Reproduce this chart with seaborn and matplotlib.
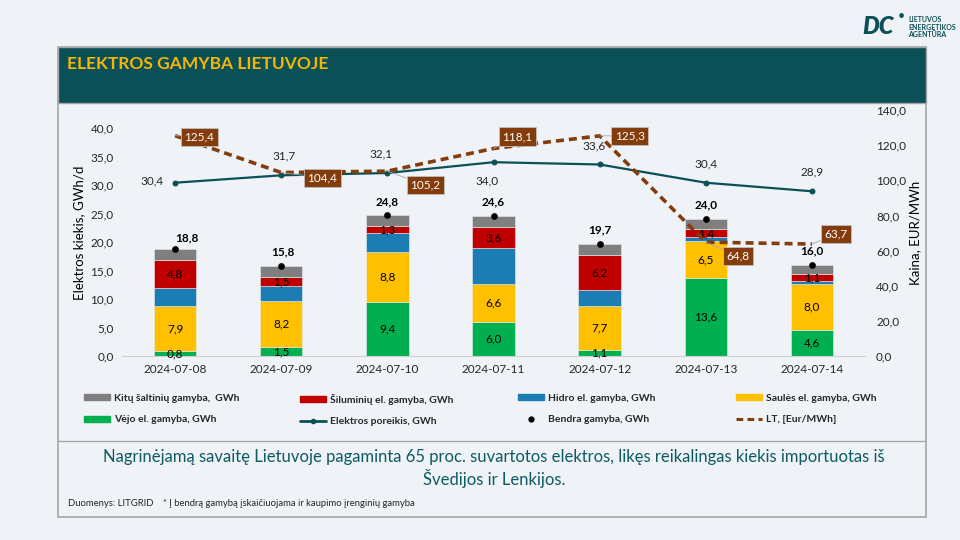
import numpy as np
import matplotlib
matplotlib.use("Agg")
import matplotlib.pyplot as plt
from matplotlib.patches import Rectangle, Patch
from matplotlib.lines import Line2D
import seaborn as sns

# ---------------- data ----------------
dates = ["2024-07-08", "2024-07-09", "2024-07-10", "2024-07-11",
         "2024-07-12", "2024-07-13", "2024-07-14"]
wind = [0.8, 1.5, 9.4, 6.0, 1.1, 13.6, 4.6]
solar = [7.9, 8.2, 8.8, 6.6, 7.7, 6.5, 8.0]
hydro = [3.3, 2.6, 3.3, 6.4, 2.7, 0.7, 0.6]
thermal = [4.8, 1.5, 1.3, 3.6, 6.2, 1.4, 1.1]
total = [18.8, 15.8, 24.8, 24.6, 19.7, 24.0, 16.0]
demand = [30.4, 31.7, 32.1, 34.0, 33.6, 30.4, 28.9]
price = [125.4, 104.4, 105.2, 118.1, 125.3, 64.8, 63.7]
other = [round(t - (w + s + h + th), 2) for t, w, s, h, th in zip(total, wind, solar, hydro, thermal)]

left_ticks = [0, 5, 10, 15, 20, 25, 30, 35, 40]
right_ticks = [0, 20, 40, 60, 80, 100, 120, 140]

# ---------------- style ----------------
sns.set_theme(style="white")
plt.rcParams["font.family"] = ["Lato", "DejaVu Sans"]

BG = "#EFF3F7"
TEAL = "#0B4F57"
C_OTHER = "#7F7F7F"
C_TH = "#C00000"
C_HY = "#1B7DB4"
C_SO = "#FFC000"
C_WI = "#00B050"
C_PR = "#843C0C"

fig = plt.figure(figsize=(9.6, 5.4), dpi=100, facecolor=BG)

W, H = 960.0, 540.0
def fx(px): return px / W
def fy(py): return 1 - py / H

# slide frame
fig.patches.append(Rectangle((fx(58), fy(517)), fx(926) - fx(58), fy(47) - fy(517),
                             transform=fig.transFigure, facecolor=BG,
                             edgecolor="#A6A6A6", lw=1.2, zorder=-10))
fig.patches.append(Rectangle((fx(58), fy(103)), fx(926) - fx(58), fy(47) - fy(103),
                             transform=fig.transFigure, facecolor=TEAL,
                             edgecolor="#A6A6A6", lw=1.0, zorder=-9))
fig.lines.append(Line2D([fx(58), fx(926)], [fy(441), fy(441)], transform=fig.transFigure,
                        color="#A6A6A6", lw=1.0, zorder=-8))
fig.text(fx(67), fy(64), "ELEKTROS GAMYBA LIETUVOJE", color="#F2B705", fontsize=12.5,
         fontweight="bold", va="center", ha="left")

# logo
fig.text(fx(862), fy(27), "DC", color=TEAL, fontsize=17, fontweight="heavy",
         fontstyle="italic", va="center", ha="left")
fig.text(fx(898), fy(16), "•", color=TEAL, fontsize=9, va="center", ha="left")
fig.text(fx(908), fy(27), "LIETUVOS\nENERGETIKOS\nAGENTŪRA", color=TEAL, fontsize=5,
         fontweight="bold", va="center", ha="left", linespacing=1.05)

# ---------------- chart ----------------
ax = fig.add_axes([fx(122), fy(356), fx(865) - fx(122), fy(110) - fy(356)])
ax.set_facecolor("none")

x_idx = np.arange(len(dates))
bottom = np.zeros(len(dates))
series = [(wind, C_WI, True), (solar, C_SO, True), (hydro, C_HY, False),
          (thermal, C_TH, True), (other, C_OTHER, False)]
for vals, col, lab in series:
    sns.barplot(x=dates, y=vals, bottom=bottom, color=col, width=0.4, ax=ax,
                edgecolor="#E8ECEF", linewidth=0.4, saturation=1, zorder=2)
    if lab:
        for i, v in enumerate(vals):
            ax.text(i, bottom[i] + v / 2, f"{v:.1f}".replace(".", ","), ha="center",
                    va="center", fontsize=8.5, color="black", zorder=5)
    bottom = bottom + np.array(vals)

# total dots
sns.scatterplot(x=x_idx, y=total, color="black", s=20, ax=ax, zorder=6, legend=False,
                edgecolor="black")
tot_off = [(12, 11), (2, 14), (0, 13), (0, 14), (0, 14), (0, 14), (0, 14)]
for i, v in enumerate(total):
    ax.annotate(f"{v:.1f}".replace(".", ","), (i, v), xytext=tot_off[i],
                textcoords="offset pixels", ha="center", va="center", fontsize=8.5,
                fontweight="bold", color="black", zorder=7)

# demand line
sns.lineplot(x=x_idx, y=demand, color=TEAL, lw=1.6, marker="o", markersize=3.5,
             markeredgecolor=TEAL, ax=ax, zorder=4, legend=False)
dem_off = [(-23, 2), (3, 19), (-6, 19), (-6, -19), (-6, 19), (0, 19), (0, 19)]
for i, v in enumerate(demand):
    ax.annotate(f"{v:.1f}".replace(".", ","), (i, v), xytext=dem_off[i],
                textcoords="offset pixels", ha="center", va="center", fontsize=8.5,
                color="#262626", zorder=7)

ax.set_xlim(-0.5, len(dates) - 0.5)
ax.set_ylim(0, 246 / 5.7)
ax.set_yticks(left_ticks)
ax.set_yticklabels([f"{t:.1f}".replace(".", ",") for t in left_ticks], fontsize=8.5,
                   color="#262626")
ax.set_xticks(x_idx)
ax.set_xticklabels(dates, fontsize=8.5, color="#262626")
ax.tick_params(axis="both", length=0, pad=6)
ax.set_xlabel("")
ax.set_ylabel("Elektros kiekis, GWh/d", fontsize=9.5, color="black", labelpad=4)
for s in ["top", "right", "left"]:
    ax.spines[s].set_visible(False)
ax.spines["bottom"].set_color("#D0D0D0")
ax.spines["bottom"].set_linewidth(0.8)
ax.grid(False)

# price line on twin axis
ax2 = ax.twinx()
ax2.set_facecolor("none")
sns.lineplot(x=x_idx, y=price, color=C_PR, lw=2.6, ax=ax2, legend=False, zorder=5)
ax2.lines[-1].set_dashes((2.2, 1.4))
pr_off = [(24, -1), (41, -5), (38, -14), (24, 12), (30, 0), (32, -14), (24, 10)]
for i, v in enumerate(price):
    ax2.annotate(f"{v:.1f}".replace(".", ","), (i, v), xytext=pr_off[i],
                 textcoords="offset pixels", ha="center", va="center", fontsize=8.5,
                 color="white", zorder=8,
                 bbox=dict(boxstyle="square,pad=0.3", fc=C_PR, ec="#BFBFBF", lw=0.6),
                 arrowprops=dict(arrowstyle="-", color="#A6A6A6", lw=0.6,
                                 shrinkA=0, shrinkB=0))
ax2.set_ylim(0, 140)
ax2.set_yticks(right_ticks)
ax2.set_yticklabels([f"{t:.1f}".replace(".", ",") for t in right_ticks], fontsize=8.5,
                    color="#262626")
ax2.tick_params(axis="y", length=0, pad=8)
ax2.set_ylabel("Kaina, EUR/MWh", fontsize=9.5, color="black", labelpad=2)
for s in ["top", "right", "left", "bottom"]:
    ax2.spines[s].set_visible(False)
ax2.grid(False)

# legend: four columns, two rows
h_other = Patch(color=C_OTHER)
h_th = Patch(color=C_TH)
h_hy = Patch(color=C_HY)
h_so = Patch(color=C_SO)
h_wi = Patch(color=C_WI)
h_dem = Line2D([], [], color=TEAL, lw=2, marker="o", markersize=3)
h_tot = Line2D([], [], color="black", lw=0, marker="o", markersize=3.5)
h_pr = Line2D([], [], color=C_PR, lw=2.2, dashes=(2.2, 1.4))
columns = [
    ([h_other, h_wi], ["Kitų šaltinių gamyba,  GWh", "Vėjo el. gamyba, GWh"], 84),
    ([h_th, h_dem], ["Šiluminių el. gamyba, GWh", "Elektros poreikis, GWh"], 300),
    ([h_hy, h_tot], ["Hidro el. gamyba, GWh", "Bendra gamyba, GWh"], 518),
    ([h_so, h_pr], ["Saulės el. gamyba, GWh", "LT, [Eur/MWh]"], 736),
]
for hs, ls, xpx in columns:
    leg = fig.legend(hs, ls, loc="upper left", bbox_to_anchor=(fx(xpx), fy(394)),
                     frameon=False, prop=dict(size=7.5, weight="bold"),
                     handlelength=2.5, handleheight=0.55, handletextpad=0.35,
                     borderaxespad=0, borderpad=0, labelspacing=1.2)
    for t in leg.get_texts():
        t.set_color("#262626")

# bottom texts
fig.text(fx(494), fy(457), "Nagrinėjamą savaitę Lietuvoje pagaminta 65 proc. suvartotos elektros, likęs reikalingas kiekis importuotas iš",
         ha="center", va="center", fontsize=12, color="#0E5A63")
fig.text(fx(494), fy(479), "Švedijos ir Lenkijos.", ha="center", va="center", fontsize=12,
         color="#0E5A63")
fig.text(fx(68), fy(503), "Duomenys: LITGRID    * Į bendrą gamybą įskaičiuojama ir kaupimo įrenginių gamyba",
         ha="left", va="center", fontsize=6.8, color="#262626")

fig.savefig("out.png", dpi=100, facecolor=BG)
